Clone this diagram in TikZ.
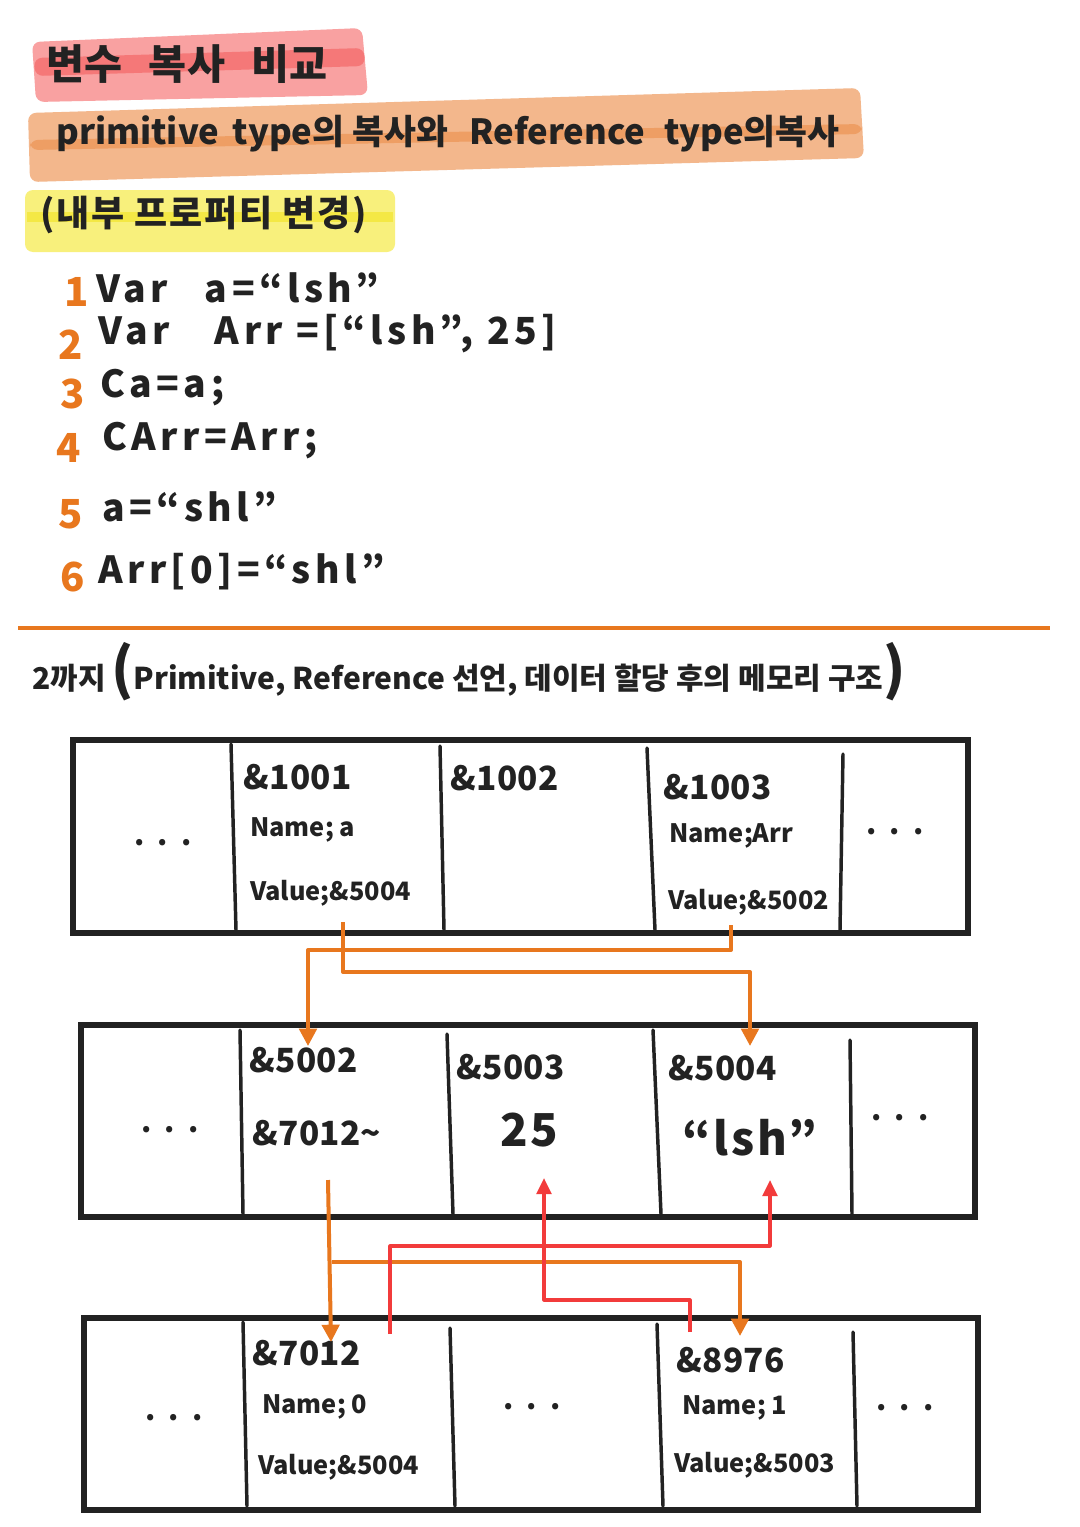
\documentclass[tikz,border=0pt]{standalone}
\usepackage{fontspec}
\setmainfont{Noto Sans CJK KR}
\usetikzlibrary{arrows.meta}
\definecolor{ink}{HTML}{222222}
\definecolor{orangeline}{HTML}{E8771E}
\definecolor{redline}{HTML}{F23B3B}
\definecolor{hlpink}{HTML}{F9A1A1}
\definecolor{hlpinkd}{HTML}{F57878}
\definecolor{hlorange}{HTML}{F3B78C}
\definecolor{hlorangedk}{HTML}{EE9E64}
\definecolor{hlyellow}{HTML}{F8F07C}
\definecolor{hlyellowd}{HTML}{F4E845}
\begin{document}
\bfseries
\begin{tikzpicture}[x=0.75pt,y=-0.75pt,
  every node/.style={inner sep=0pt, text=ink},
  memframe/.style={draw=ink, line width=4.5pt},
  divider/.style={draw=ink, line width=2.6pt, line cap=round},
  addr/.style={anchor=west, font=\fontsize{25}{28}\selectfont\addfontfeatures{LetterSpace=1}},
  field/.style={anchor=west, font=\fontsize{19}{22}\selectfont},
  bigval/.style={anchor=west, font=\fontsize{34}{38}\selectfont\addfontfeatures{LetterSpace=6}},
  dots/.style={font=\fontsize{22}{24}\selectfont},
  codetext/.style={anchor=west, font=\fontsize{28}{32}\selectfont\addfontfeatures{LetterSpace=12}},
  linenum/.style={anchor=west, text=orangeline, font=\fontsize{30}{34}\selectfont},
  oarrow/.style={draw=orangeline, line width=3pt, line join=round, -{Triangle[length=13pt,width=13pt]}},
  oline/.style={draw=orangeline, line width=3pt, line join=round},
  rarrow/.style={draw=redline, line width=2.4pt, line join=round, -{Triangle[length=12pt,width=11pt]}},
  hlbox/.style={rounded corners=6pt}
]
\useasboundingbox (0,0) rectangle (1080,1527);
\fill[white] (0,0) rectangle (1080,1527);

% ---------- highlighter bands ----------
\fill[hlpink,hlbox] (32,42) -- (362,28) -- (368,95) -- (36,102) -- cycle;
\fill[hlpinkd,hlbox] (34,58) -- (364,48) -- (365,66) -- (35,76) -- cycle;
\fill[hlorange,hlbox] (28,113) -- (860,88) -- (864,158) -- (30,182) -- cycle;
\fill[hlorangedk,hlbox] (30,140) -- (862,124) -- (862,134) -- (30,150) -- cycle;
\fill[hlyellow,hlbox] (25,190) -- (395,190) -- (395,252) -- (25,252) -- cycle;
\fill[hlyellowd] (27,212) -- (393,212) -- (393,222) -- (27,222) -- cycle;

% ---------- headings ----------
\node[anchor=west, font=\fontsize{31}{36}\selectfont] (title) at (46,64)
  {변수\hspace{20pt}복사\hspace{20pt}비교};
\node[anchor=west, font=\fontsize{26}{30}\selectfont] (subtitle) at (56,134)
  {primitive\hspace{10pt}type의 복사와\hspace{16pt}Reference\hspace{14pt}type의복사};
\node[anchor=west, font=\fontsize{27}{30}\selectfont\addfontfeatures{LetterSpace=5}] (note) at (40,215)
  {(내부 프로퍼티 변경)};

% ---------- code lines ----------
\node[linenum] (n1) at (64,292) {1};
\node[codetext] (c1) at (96,288) {Var\hspace{28pt}a=“lsh”};
\node[linenum] (n2) at (58,345) {2};
\node[codetext] (c2) at (98,334) {Var\hspace{34pt}Arr =[“lsh”, 25]};
\node[linenum] (n3) at (60,394) {3};
\node[codetext] (c3) at (100,388) {Ca=a;};
\node[linenum] (n4) at (56,448) {4};
\node[codetext] (c4) at (102,441) {CArr=Arr;};
\node[linenum] (n5) at (58,514) {5};
\node[codetext] (c5) at (102,507) {a=“shl”};
\node[linenum] (n6) at (60,577) {6};
\node[codetext] (c6) at (98,572) {Arr[0]=“shl”};

% ---------- separator ----------
\coordinate (sepL) at (18,628);
\coordinate (sepR) at (1050,628);
\draw[oline] (sepL) -- (sepR);

\node[anchor=west, font=\fontsize{22.5}{26}\selectfont] (heading) at (32,672)
  {2까지\hspace{4pt}{\fontsize{42}{42}\selectfont(}Primitive, Reference 선언, 데이터 할당 후의 메모리 구조{\fontsize{42}{42}\selectfont)}};

% ---------- memory row 1 ----------
\draw[memframe] (73,740) rectangle (968,933);
\draw[divider] (231,744) -- (236,930);
\draw[divider] (440,746) -- (444,930);
\draw[divider] (647,748) -- (655,930);
\draw[divider] (843,754) -- (840,930);
\node[dots] (m1d1) at (163,843) {.\hspace{10pt}.\hspace{10pt}.};
\node[addr] (m1a1) at (243,777) {\&1001};
\node[field] (m1n1) at (250,830) {Name; a};
\node[field] (m1v1) at (250,893) {Value;\&5004};
\node[addr] (m1a2) at (450,778) {\&1002};
\node[addr] (m1a3) at (663,787) {\&1003};
\node[field] (m1n3) at (669,836) {Name;Arr};
\node[field] (m1v3) at (668,902) {Value;\&5002};
\node[dots] (m1d5) at (895,832) {.\hspace{10pt}.\hspace{10pt}.};

% ---------- memory row 2 ----------
\draw[memframe] (81,1025) rectangle (975,1217);
\draw[divider] (240,1030) -- (243,1214);
\draw[divider] (447,1034) -- (453,1214);
\draw[divider] (653,1030) -- (661,1214);
\draw[divider] (850,1040) -- (852,1214);
\node[dots] (m2d1) at (170,1130) {.\hspace{10pt}.\hspace{10pt}.};
\node[addr] (m2a1) at (249,1060) {\&5002};
\node[addr] (m2v1) at (252,1133) {\&7012\textasciitilde};
\node[addr] (m2a2) at (456,1067) {\&5003};
\node[bigval] (m2v2) at (500,1130) {25};
\node[addr] (m2a3) at (668,1068) {\&5004};
\node[bigval] (m2v3) at (682,1138) {“lsh”};
\node[dots] (m2d5) at (900,1118) {.\hspace{10pt}.\hspace{10pt}.};

% ---------- memory row 3 ----------
\draw[memframe] (84,1318) rectangle (978,1510);
\draw[divider] (243,1322) -- (247,1506);
\draw[divider] (450,1328) -- (455,1506);
\draw[divider] (657,1324) -- (663,1506);
\draw[divider] (853,1332) -- (857,1506);
\node[dots] (m3d1) at (174,1418) {.\hspace{10pt}.\hspace{10pt}.};
\node[addr] (m3a1) at (252,1353) {\&7012};
\node[field] (m3n1) at (262,1407) {Name; 0};
\node[field] (m3v1) at (258,1467) {Value;\&5004};
\node[dots] (m3d3) at (532,1407) {.\hspace{10pt}.\hspace{10pt}.};
\node[addr] (m3a3) at (676,1360) {\&8976};
\node[field] (m3n3) at (682,1408) {Name; 1};
\node[field] (m3v3) at (674,1465) {Value;\&5003};
\node[dots] (m3d5) at (905,1408) {.\hspace{10pt}.\hspace{10pt}.};

% ---------- connector anchors ----------
\coordinate (aS) at (343,922);   % a value -> &5004
\coordinate (aH) at (343,972);
\coordinate (aT) at (750,1046);
\coordinate (arrS) at (731,925); % Arr value -> &5002
\coordinate (arrH) at (731,950);
\coordinate (arrT) at (308,1046);
\coordinate (elS) at (328,1180); % &7012~ -> elements
\coordinate (elT0) at (331,1342);
\coordinate (elH) at (332,1262);
\coordinate (elT1) at (740,1336);
\coordinate (r0S) at (390,1334); % element 0 value -> "lsh"
\coordinate (r0H) at (390,1246);
\coordinate (r0T) at (770,1180);
\coordinate (r1S) at (690,1332); % element 1 value -> 25
\coordinate (r1H) at (690,1300);
\coordinate (r1T) at (544,1178);

% ---------- orange connectors ----------
\draw[oarrow] (aS) -- (aH) -- (aT |- aH) -- (aT);
\draw[oarrow] (arrS) -- (arrH) -- (arrT |- arrH) -- (arrT);
\draw[oarrow] (elS) -- (elT0);
\draw[oarrow] (elH) -- (elT1 |- elH) -- (elT1);

% ---------- red connectors ----------
\draw[rarrow] (r0S) -- (r0H) -- (r0T |- r0H) -- (r0T);
\draw[rarrow] (r1S) -- (r1H) -- (r1T |- r1H) -- (r1T);
\end{tikzpicture}
\end{document}
